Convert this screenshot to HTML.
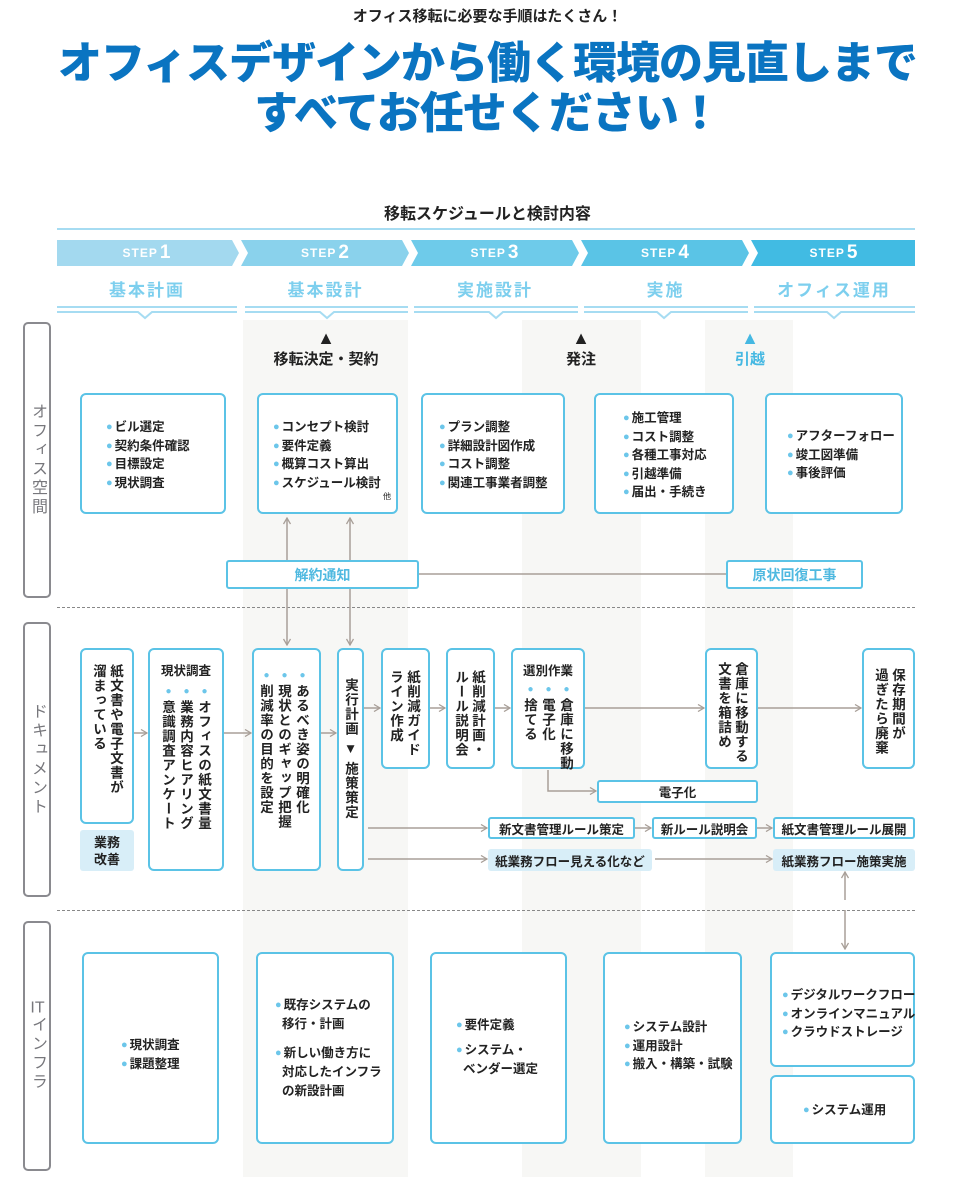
<!DOCTYPE html>
<html><head><meta charset="utf-8">
<style>
*{margin:0;padding:0;box-sizing:border-box}
body{width:975px;height:1177px;position:relative;background:#fff;overflow:hidden;font-family:"Liberation Sans","Noto Sans CJK JP",sans-serif;color:#222}
.a{position:absolute}
.col{position:absolute;background:#f7f7f5;top:320px;bottom:0}
.bx{position:absolute;border:2px solid #5bc3e6;border-radius:6px;background:#fff}
.lst{position:absolute;font-size:12.5px;font-weight:bold;line-height:18.5px;white-space:nowrap;color:#222}
.d{color:#6cc6ea;font-size:11px;margin-right:2px;vertical-align:1px}
.v{writing-mode:vertical-rl;font-size:13.5px;font-weight:bold;line-height:17px;letter-spacing:1px;white-space:nowrap;position:absolute}
.v .d{margin:0 0 2px 0;font-size:10px}
.lab{position:absolute;left:23px;width:28px;border:2px solid #8a8a8f;border-radius:5px;writing-mode:vertical-rl;display:flex;align-items:center;justify-content:center;color:#77777c;font-size:16px;letter-spacing:3px}
.tcu{text-combine-upright:all}
.step{position:absolute;top:240px;height:26px;color:#fff;font-weight:bold;font-size:12px;letter-spacing:1px;display:flex;align-items:center;justify-content:center}
.step b{font-size:19px;margin-left:2px}
.sn{position:absolute;top:276px;font-size:17px;font-weight:bold;color:#7dcfee;text-align:center;letter-spacing:2px}
.sm{position:absolute;font-size:12.5px;font-weight:bold;text-align:center;display:flex;align-items:center;justify-content:center;border-radius:3px}
.tri{font-size:18px;line-height:18px}
</style></head><body>
<div class="col" style="left:243px;width:165px"></div>
<div class="col" style="left:522px;width:119px"></div>
<div class="col" style="left:705px;width:88px"></div>

<div class="a" style="left:0;width:975px;top:5px;text-align:center;font-size:15px;font-weight:bold">オフィス移転に必要な手順はたくさん！</div>
<div class="a" style="left:0;width:975px;top:39px;text-align:center;font-size:44px;font-weight:900;color:#0a74c1;line-height:50px;letter-spacing:-1px">オフィスデザインから働く環境の見直しまで<br>すべてお任せください！</div>

<div class="a" style="left:0;width:975px;top:200px;text-align:center;font-size:16px;font-weight:bold">移転スケジュールと検討内容</div>
<div class="a" style="left:57px;width:858px;top:228px;height:2px;background:#a6dcf2"></div>

<svg class="a" style="left:0;top:0" width="975" height="320">
<polygon points="57,240 232,240 239,253 232,266 57,266" fill="#a3d9ef"/>
<polygon points="241,240 402,240 409,253 402,266 241,266 248,253" fill="#8ad2ec"/>
<polygon points="411,240 572,240 579,253 572,266 411,266 418,253" fill="#6ecbea"/>
<polygon points="581,240 742,240 749,253 742,266 581,266 588,253" fill="#5ac4e6"/>
<polygon points="751,240 915,240 915,266 751,266 758,253" fill="#41bbe3"/>
<g stroke="#a6dcf2" stroke-width="2" fill="none">
<path d="M57,307H237M57,312H138L145,318L152,312H237"/>
<path d="M245,307H408M245,312H320L327,318L334,312H408"/>
<path d="M414,307H578M414,312H489L496,318L503,312H578"/>
<path d="M584,307H748M584,312H657L664,318L671,312H748"/>
<path d="M754,307H915M754,312H827L834,318L841,312H915"/>
</g>
</svg>
<div class="step" style="left:57px;width:180px">STEP<b>1</b></div>
<div class="step" style="left:243px;width:165px">STEP<b>2</b></div>
<div class="step" style="left:412px;width:166px">STEP<b>3</b></div>
<div class="step" style="left:583px;width:165px">STEP<b>4</b></div>
<div class="step" style="left:753px;width:162px">STEP<b>5</b></div>
<div class="sn" style="left:57px;width:180px">基本計画</div>
<div class="sn" style="left:243px;width:165px">基本設計</div>
<div class="sn" style="left:412px;width:166px">実施設計</div>
<div class="sn" style="left:583px;width:165px">実施</div>
<div class="sn" style="left:753px;width:162px">オフィス運用</div>

<div class="lab" style="top:322px;height:276px">オフィス空間</div>
<div class="lab" style="top:622px;height:275px">ドキュメント</div>
<div class="lab" style="top:921px;height:250px"><span><span class="tcu">IT</span>インフラ</span></div>

<div class="a" style="left:57px;width:858px;top:607px;border-top:1.5px dashed #888"></div>
<div class="a" style="left:57px;width:858px;top:910px;border-top:1.5px dashed #888"></div>

<div class="a" style="left:226px;width:200px;top:329px;text-align:center;font-size:15px;font-weight:bold;line-height:20px"><span class="tri">▲</span><br>移転決定・契約</div>
<div class="a" style="left:541px;width:80px;top:329px;text-align:center;font-size:15px;font-weight:bold;line-height:20px"><span class="tri">▲</span><br>発注</div>
<div class="a" style="left:710px;width:80px;top:329px;text-align:center;font-size:15px;font-weight:bold;line-height:20px;color:#45b8e2"><span class="tri">▲</span><br>引越</div>

<svg class="a" style="left:0;top:0" width="975" height="1177">
<defs><marker id="ar" markerWidth="8" markerHeight="8" refX="7" refY="4" orient="auto" markerUnits="userSpaceOnUse"><path d="M1,0.5L7,4L1,7.5" fill="none" stroke="#a89f98" stroke-width="1.3"/></marker></defs>
<g stroke="#a89f98" stroke-width="1.5" fill="none" marker-end="url(#ar)">
<path d="M287,560V518"/><path d="M287,588V645"/>
<path d="M350,560V518"/><path d="M350,588V645"/>
<path d="M134,733H147"/><path d="M224,733H251"/><path d="M321,733H336"/>
<path d="M364,708H380"/><path d="M430,708H445"/><path d="M495,708H510"/>
<path d="M585,708H704"/><path d="M758,708H861"/>
<path d="M548,770V791H596"/>
<path d="M368,828H487"/><path d="M368,859H487"/>
<path d="M635,828H651"/><path d="M757,828H772"/>
<path d="M655,859H772"/>
<path d="M845,900V872"/><path d="M845,910V949"/>
</g>
<path d="M418,574H726" stroke="#a89f98" stroke-width="1.5"/>
</svg>

<div class="bx" style="left:80px;top:393px;width:146px;height:121px"><div class="lst" style="left:24px;top:23px"><span class="d">●</span>ビル選定<br><span class="d">●</span>契約条件確認<br><span class="d">●</span>目標設定<br><span class="d">●</span>現状調査</div></div>
<div class="bx" style="left:257px;top:393px;width:141px;height:121px"><div class="lst" style="left:14px;top:23px"><span class="d">●</span>コンセプト検討<br><span class="d">●</span>要件定義<br><span class="d">●</span>概算コスト算出<br><span class="d">●</span>スケジュール検討</div><div class="a" style="right:5px;top:96px;font-size:8px">他</div></div>
<div class="bx" style="left:421px;top:393px;width:144px;height:121px"><div class="lst" style="left:16px;top:23px"><span class="d">●</span>プラン調整<br><span class="d">●</span>詳細設計図作成<br><span class="d">●</span>コスト調整<br><span class="d">●</span>関連工事業者調整</div></div>
<div class="bx" style="left:594px;top:393px;width:140px;height:121px"><div class="lst" style="left:27px;top:14px"><span class="d">●</span>施工管理<br><span class="d">●</span>コスト調整<br><span class="d">●</span>各種工事対応<br><span class="d">●</span>引越準備<br><span class="d">●</span>届出・手続き</div></div>
<div class="bx" style="left:765px;top:393px;width:138px;height:121px"><div class="lst" style="left:20px;top:32px"><span class="d">●</span>アフターフォロー<br><span class="d">●</span>竣工図準備<br><span class="d">●</span>事後評価</div></div>

<div class="sm" style="left:226px;top:560px;width:193px;height:29px;border:2px solid #5bc3e6;color:#4fb9e0;background:#fff;font-size:14px">解約通知</div>
<div class="sm" style="left:726px;top:560px;width:137px;height:29px;border:2px solid #5bc3e6;color:#4fb9e0;background:#fff;font-size:14px">原状回復工事</div>

<div class="bx" style="left:80px;top:648px;width:54px;height:176px"><div class="v" style="right:8px;top:14px">紙文書や電子文書が<br>溜まっている</div></div>
<div class="sm" style="left:80px;top:830px;width:54px;height:41px;background:#d8eef8;line-height:17px;font-size:13px">業務<br>改善</div>
<div class="bx" style="left:148px;top:648px;width:76px;height:223px"><div class="a" style="left:0;width:72px;top:10px;text-align:center;font-size:12.5px;font-weight:bold">現状調査</div><div class="v" style="right:9px;top:36px"><span class="d">●</span>オフィスの紙文書量<br><span class="d">●</span>業務内容ヒアリング<br><span class="d">●</span>意識調査アンケート</div></div>
<div class="bx" style="left:252px;top:648px;width:69px;height:223px"><div class="v" style="right:8px;top:20px"><span class="d">●</span>あるべき姿の明確化<br><span class="d">●</span>現状とのギャップ把握<br><span class="d">●</span>削減率の目的を設定</div></div>
<div class="bx" style="left:337px;top:648px;width:27px;height:223px"><div class="v" style="right:3px;top:28px">実行計画 ▼ 施策策定</div></div>
<div class="bx" style="left:381px;top:648px;width:49px;height:121px"><div class="v" style="right:7px;top:20px">紙削減ガイド<br>ライン作成</div></div>
<div class="bx" style="left:446px;top:648px;width:49px;height:121px"><div class="v" style="right:7px;top:20px">紙削減計画・<br>ルール説明会</div></div>
<div class="bx" style="left:511px;top:648px;width:74px;height:121px"><div class="a" style="left:0;width:70px;top:10px;text-align:center;font-size:12.5px;font-weight:bold">選別作業</div><div class="v" style="right:8px;top:34px"><span class="d">●</span>倉庫に移動<br><span class="d">●</span>電子化<br><span class="d">●</span>捨てる</div></div>
<div class="bx" style="left:705px;top:648px;width:53px;height:121px"><div class="v" style="right:7px;top:12px">倉庫に移動する<br>文書を箱詰め</div></div>
<div class="bx" style="left:862px;top:648px;width:53px;height:121px"><div class="v" style="right:7px;top:18px">保存期間が<br>過ぎたら廃棄</div></div>

<div class="sm" style="left:597px;top:780px;width:161px;height:23px;border:2px solid #5bc3e6;background:#fff">電子化</div>
<div class="sm" style="left:488px;top:817px;width:147px;height:22px;border:2px solid #5bc3e6;background:#fff">新文書管理ルール策定</div>
<div class="sm" style="left:652px;top:817px;width:105px;height:22px;border:2px solid #5bc3e6;background:#fff">新ルール説明会</div>
<div class="sm" style="left:773px;top:817px;width:142px;height:22px;border:2px solid #5bc3e6;background:#fff">紙文書管理ルール展開</div>
<div class="sm" style="left:488px;top:849px;width:164px;height:22px;background:#d8eef8">紙業務フロー見える化など</div>
<div class="sm" style="left:773px;top:849px;width:142px;height:22px;background:#d8eef8">紙業務フロー施策実施</div>

<div class="bx" style="left:82px;top:952px;width:137px;height:192px"><div class="lst" style="left:37px;top:82px"><span class="d">●</span>現状調査<br><span class="d">●</span>課題整理</div></div>
<div class="bx" style="left:256px;top:952px;width:138px;height:192px"><div class="lst" style="left:17px;top:42px;line-height:19px"><span class="d">●</span>既存システムの<br>&nbsp;&nbsp;移行・計画<br><div style="height:10px"></div><span class="d">●</span>新しい働き方に<br>&nbsp;&nbsp;対応したインフラ<br>&nbsp;&nbsp;の新設計画</div></div>
<div class="bx" style="left:430px;top:952px;width:137px;height:192px"><div class="lst" style="left:24px;top:62px;line-height:19px"><span class="d">●</span>要件定義<br><div style="height:6px"></div><span class="d">●</span>システム・<br>&nbsp;&nbsp;ベンダー選定</div></div>
<div class="bx" style="left:603px;top:952px;width:139px;height:192px"><div class="lst" style="left:19px;top:64px"><span class="d">●</span>システム設計<br><span class="d">●</span>運用設計<br><span class="d">●</span>搬入・構築・試験</div></div>
<div class="bx" style="left:770px;top:952px;width:145px;height:115px"><div class="lst" style="left:10px;top:32px"><span class="d">●</span>デジタルワークフロー<br><span class="d">●</span>オンラインマニュアル<br><span class="d">●</span>クラウドストレージ</div></div>
<div class="bx" style="left:770px;top:1075px;width:145px;height:69px"><div class="lst" style="left:31px;top:24px"><span class="d">●</span>システム運用</div></div>
</body></html>
